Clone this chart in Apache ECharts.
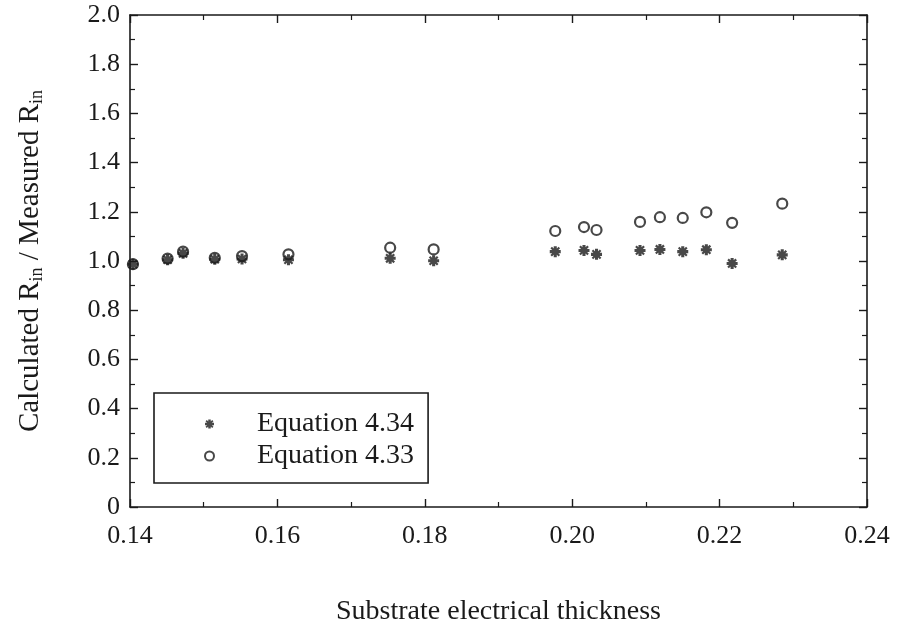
<!DOCTYPE html>
<html>
<head>
<meta charset="utf-8">
<script src="https://cdn.jsdelivr.net/npm/echarts@6/dist/echarts.min.js"></script>
<style>html,body{margin:0;padding:0;background:#fff}#c{width:897px;height:631px}</style>
</head>
<body>
<div id="c"></div>
<script>
var xValues = [0.1404, 0.1451, 0.1472, 0.1515, 0.1552, 0.1615, 0.1753, 0.1812, 0.1977, 0.2016, 0.2033, 0.2092, 0.2119, 0.2150, 0.2182, 0.2217, 0.2285];
var eq434 = [0.987, 1.005, 1.031, 1.007, 1.008, 1.005, 1.011, 1.001, 1.038, 1.043, 1.027, 1.043, 1.047, 1.038, 1.046, 0.990, 1.025];
var eq433 = [0.987, 1.010, 1.038, 1.013, 1.020, 1.027, 1.054, 1.047, 1.122, 1.138, 1.126, 1.159, 1.178, 1.175, 1.198, 1.155, 1.233];
var seriesNames = ['Equation 4.34', 'Equation 4.33'];
var xTitle = 'Substrate electrical thickness';

var star = 'path://M0 3.6L10 3.6L10 6.4L0 6.4ZM3.6 0L6.4 0L6.4 10L3.6 10ZM2 0.6L9.4 8L8 9.4L0.6 2ZM8 0.6L9.4 2L2 9.4L0.6 8Z';
function pairs(xs, ys){ return xs.map(function(x,i){return [x, ys[i]];}); }

var FONT = '"Liberation Serif", "Times New Roman", serif';
var C = '#1a1a1a';
var axisCommon = {
  type: 'value',
  axisLine: {show: true, onZero: false, lineStyle: {color: C, width: 1.6}},
  axisTick: {show: true, inside: true, length: 8, lineStyle: {color: C, width: 1.4}},
  minorTick: {show: true, splitNumber: 2, length: 5, lineStyle: {color: C, width: 1.2}},
  splitLine: {show: false},
  minorSplitLine: {show: false}
};
function ax(extra){ return Object.assign({}, axisCommon, extra); }

var chart = echarts.init(document.getElementById('c'));
chart.setOption({
  animation: false,
  backgroundColor: '#fff',
  grid: {left: 130, right: 30, top: 15, bottom: 119},
  xAxis: [
    ax({position: 'bottom', min: 0.14, max: 0.24, interval: 0.02,
      name: xTitle, nameLocation: 'middle', nameGap: 91,
      nameTextStyle: {fontFamily: FONT, fontSize: 28, color: C},
      axisLabel: {margin: 16, fontFamily: FONT, fontSize: 26, color: C,
        formatter: function(v){return v.toFixed(2);}}}),
    ax({position: 'top', min: 0.14, max: 0.24, interval: 0.02, axisLabel: {show: false}})
  ],
  yAxis: [
    ax({position: 'left', min: 0, max: 2, interval: 0.2,
      name: 'Calculated R{s|in} / Measured R{s|in}', nameLocation: 'middle', nameGap: 84,
      nameTextStyle: {fontFamily: FONT, fontSize: 29, color: C,
        rich: {s: {fontFamily: FONT, fontSize: 18, color: C, verticalAlign: 'bottom', padding: [14,0,0,0]}}},
      axisLabel: {margin: 10, fontFamily: FONT, fontSize: 26, color: C,
        formatter: function(v){return v === 0 ? '0' : v.toFixed(1);}}}),
    ax({position: 'right', min: 0, max: 2, interval: 0.2, axisLabel: {show: false}})
  ],
  legend: {
    left: 154, top: 393, orient: 'vertical',
    borderColor: C, borderWidth: 1.6,
    padding: [17, 14, 13, 50],
    itemGap: 4, itemWidth: 9, itemHeight: 9,
    textStyle: {fontFamily: FONT, fontSize: 28, color: C, padding: [0, 0, 0, 38]},
    data: [
      {name: seriesNames[0], icon: star, itemStyle: {color: C}},
      {name: seriesNames[1], icon: 'circle', itemStyle: {color: '#fff', borderColor: C, borderWidth: 2}}
    ]
  },
  series: [
    {name: seriesNames[0], type: 'scatter', symbol: star, symbolSize: 11,
      itemStyle: {color: C}, data: pairs(xValues, eq434), z: 3},
    {name: seriesNames[1], type: 'scatter', symbol: 'circle', symbolSize: 10,
      itemStyle: {color: 'rgba(255,255,255,0)', borderColor: C, borderWidth: 2.2}, data: pairs(xValues, eq433), z: 4}
  ]
});
</script>
</body>
</html>
